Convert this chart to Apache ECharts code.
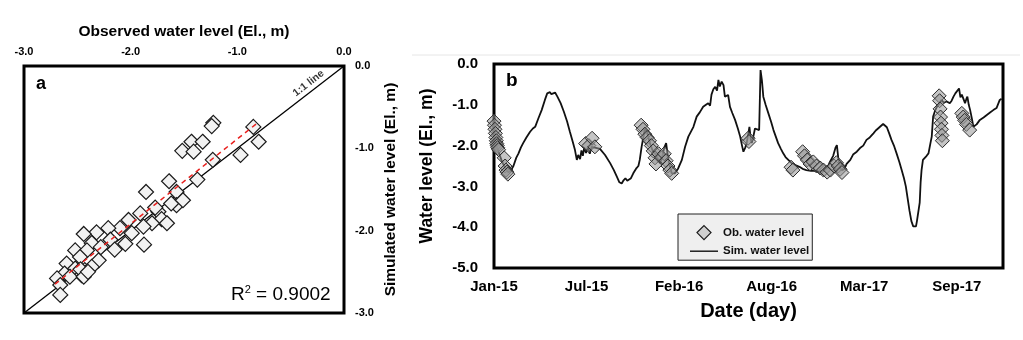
<!DOCTYPE html>
<html><head><meta charset="utf-8">
<script src="https://cdn.jsdelivr.net/npm/echarts@6/dist/echarts.min.js"></script>
<style>html,body{margin:0;padding:0;background:#fff}#c{width:1023px;height:340px}</style>
</head><body><div id="c"></div>
<script>
// ---------- Panel a: observed vs simulated (El., m) ----------
const obsA = [-1.225,-1.24,-1.516,-1.43,-1.325,-1.41,-0.85,-0.80,-0.97,-1.23,-1.375,-1.64,-1.856,-1.57,-1.57,-1.62,-1.91,-1.74,-1.71,-1.66,-1.80,-2.02,-2.10,-1.99,-1.88,-1.875,-2.21,-2.32,-2.44,-2.365,-2.19,-2.15,-2.05,-2.52,-2.41,-2.30,-2.60,-2.475,-2.52,-2.43,-2.365,-2.46,-2.43,-2.62,-2.69,-2.66,-2.66,-2.57,-1.77,-1.51,-2.28,-2.47,-2.44,-2.40];
const simA = [-0.69,-0.73,-1.03,-0.92,-0.92,-1.04,-0.74,-0.92,-1.08,-1.14,-1.38,-1.40,-1.53,-1.53,-1.69,-1.67,-1.79,-1.77,-1.86,-1.91,-1.91,-1.87,-1.97,-2.03,-1.95,-2.17,-1.97,-2.02,-2.04,-2.15,-2.11,-2.23,-2.16,-2.24,-2.24,-2.36,-2.40,-2.32,-2.46,-2.48,-2.44,-2.54,-2.52,-2.52,-2.58,-2.66,-2.78,-2.56,-1.72,-1.63,-2.20,-2.47,-2.56,-2.50];
const fitObs = [-2.71, -0.80];
const fitSim = [-2.65, -0.68];
const oneToOne = [-3, 0];
const oneToOneLabelAt = -0.30;
const ticksA = ['-3.0', '-2.0', '-1.0', '0.0'];
const r2Text = '0.9002';

// ---------- Panel b: time series (days since 1 Jan 2015) ----------
const simDays = [0,8,16,24,31,36,42,48,53,58,63,70,78,84,89,96,103,110,115,121,124,127,132,137,144,151,158,164,170,175,179,182,186,189,192,195,199,203,207,211,218,229,240,251,259,265,271,276,280,284,288,292,296,301,304,308,312,315,319,323,326,330,337,342,348,353,359,363,368,372,375,377,381,384,391,398,406,413,420,431,438,445,452,458,463,467,470,474,478,482,485,488,492,496,499,503,506,510,515,521,527,532,536,539,543,546,549,552,555,557,561,564,568,573,576,579,582,587,593,599,604,609,614,620,625,630,636,642,650,660,667,675,685,693,702,712,720,726,733,738,741,744,748,752,757,762,770,776,784,791,798,805,812,820,825,830,836,841,845,849,854,859,865,870,876,881,886,890,894,898,902,906,909,912,914,917,920,922,924,927,931,935,939,943,946,949,953,957,962,967,972,978,985,989,993,997,1000,1005,1008,1011,1014,1018,1021,1023,1026,1029,1033,1036,1040,1043,1050,1058,1065,1072,1079,1086,1090,1093,1097];
const simVals = [-1.9,-2.1,-2.35,-2.55,-2.65,-2.62,-2.5,-2.3,-2.19,-2.05,-1.94,-1.8,-1.66,-1.58,-1.54,-1.33,-1.13,-0.88,-0.72,-0.69,-0.74,-0.76,-0.70,-0.80,-0.96,-1.17,-1.41,-1.66,-1.90,-2.11,-2.35,-2.23,-2.33,-2.12,-2.25,-2.05,-2.18,-2.02,-2.2,-2.03,-2.05,-2.08,-2.23,-2.43,-2.60,-2.75,-2.9,-2.93,-2.85,-2.80,-2.86,-2.90,-2.80,-2.68,-2.72,-2.55,-2.5,-2.35,-2.03,-1.78,-1.58,-1.65,-1.94,-2.1,-2.19,-2.3,-2.43,-2.3,-2.05,-1.94,-2.2,-2.35,-2.55,-2.68,-2.68,-2.56,-2.35,-2.03,-1.78,-1.54,-1.29,-1.18,-1.05,-1.0,-0.96,-1.02,-0.75,-0.62,-0.56,-0.65,-0.39,-0.55,-0.43,-0.52,-0.80,-0.82,-0.76,-1.05,-1.2,-1.37,-1.58,-1.78,-2.0,-2.15,-2.05,-1.94,-1.75,-1.54,-1.85,-1.94,-1.75,-1.58,-1.62,-1.62,-0.15,-0.4,-0.80,-1.0,-1.21,-1.42,-1.62,-1.78,-1.94,-2.08,-2.19,-2.28,-2.35,-2.42,-2.47,-2.52,-2.57,-2.6,-2.62,-2.62,-2.64,-2.62,-2.55,-2.40,-2.25,-2.05,-1.99,-2.3,-2.55,-2.6,-2.58,-2.45,-2.35,-2.22,-2.15,-2.06,-2.0,-1.86,-1.8,-1.70,-1.63,-1.58,-1.52,-1.47,-1.50,-1.55,-1.7,-1.86,-2.02,-2.19,-2.4,-2.6,-2.8,-3.0,-3.3,-3.6,-3.85,-3.98,-4.02,-3.98,-3.85,-3.82,-3.4,-2.9,-2.6,-2.35,-2.3,-2.25,-2.19,-1.95,-1.78,-1.29,-1.15,-1.05,-0.98,-0.88,-0.95,-0.92,-0.96,-0.90,-0.80,-0.72,-0.68,-0.6,-0.82,-0.75,-0.72,-0.96,-0.85,-0.80,-1.0,-1.13,-1.35,-1.54,-1.52,-1.48,-1.37,-1.31,-1.25,-1.19,-1.13,-1.08,-1.05,-0.88,-0.85];
const obsDays = [0,1,2,3,4,5,6,7,8,10,22,24,26,28,30,198,205,212,218,318,322,326,331,336,340,344,348,350,356,362,368,372,376,380,384,549,551,642,646,667,671,677,683,690,697,705,712,720,727,735,740,744,748,752,962,963,964,965,966,967,968,969,1011,1014,1017,1021,1028];
const obsVals = [-1.4,-1.5,-1.6,-1.7,-1.8,-1.88,-1.95,-2.0,-2.05,-2.1,-2.3,-2.5,-2.6,-2.65,-2.7,-1.95,-2.0,-1.82,-2.03,-1.5,-1.6,-1.72,-1.8,-1.88,-2.0,-2.13,-2.3,-2.45,-2.2,-2.3,-2.2,-2.37,-2.5,-2.6,-2.68,-1.82,-1.9,-2.53,-2.6,-2.15,-2.25,-2.35,-2.45,-2.4,-2.5,-2.55,-2.6,-2.65,-2.6,-2.5,-2.42,-2.5,-2.58,-2.66,-0.78,-0.9,-1.1,-1.3,-1.45,-1.6,-1.75,-1.88,-1.21,-1.3,-1.38,-1.48,-1.62];
const dateTicks = ['Jan-15', 'Jul-15', 'Feb-16', 'Aug-16', 'Mar-17', 'Sep-17'];
const ticksB = ['0.0', '-1.0', '-2.0', '-3.0', '-4.0', '-5.0'];

const FF = '"Liberation Sans", Arial, sans-serif';
const zip = (a, b) => a.map((v, i) => [v, b[i]]);

const chart = echarts.init(document.getElementById('c'), null, {renderer: 'canvas'});
chart.setOption({
  animation: false,
  backgroundColor: '#fff',
  textStyle: {fontFamily: FF},
  grid: [
    {left: 24, top: 66, width: 320, height: 247, show: true, borderColor: '#000', borderWidth: 3, containLabel: false, outerBoundsMode: 'none'},
    {left: 494, top: 64, width: 509, height: 204, show: true, borderColor: '#000', borderWidth: 3, containLabel: false, outerBoundsMode: 'none'}
  ],
  title: [
    {text: 'a', left: 31, top: 70, textStyle: {fontFamily: FF, fontSize: 18, fontWeight: 'bold', color: '#000'}},
    {text: 'b', left: 501, top: 66, textStyle: {fontFamily: FF, fontSize: 19, fontWeight: 'bold', color: '#000'}},
    {text: '{r|R}{s|2}{r| = ' + r2Text + '}', left: 226, top: 279, textStyle: {fontWeight: 'normal', rich: {
      r: {fontFamily: FF, fontSize: 19, fontWeight: 'normal', color: '#000', verticalAlign: 'bottom', lineHeight: 20},
      s: {fontFamily: FF, fontSize: 11, fontWeight: 'normal', color: '#000', verticalAlign: 'top', padding: [0, 0, 8, 0], lineHeight: 20}
    }}}
  ],
  legend: {
    data: [
      {name: 'Ob. water level', icon: 'path://M7,0L14,7L7,14L0,7Z', itemStyle: {color: '#cfcfcf', borderColor: '#1a1a1a', borderWidth: 1.2}},
      {name: 'Sim. water level', icon: 'path://M0,0L28,0L28,1.4L0,1.4Z'}
    ],
    symbolKeepAspect: true,
    orient: 'vertical', left: 678, top: 214,
    padding: [11, 3, 3, 12], itemGap: 5, itemWidth: 28, itemHeight: 14,
    backgroundColor: '#efefef', borderColor: '#222', borderWidth: 1, borderRadius: 0,
    textStyle: {fontFamily: FF, fontSize: 11.5, fontWeight: 'bold', color: '#111'}
  },
  xAxis: [
    {gridIndex: 0, type: 'value', position: 'top', min: -3, max: 0, interval: 1,
     name: 'Observed water level (El., m)', nameLocation: 'middle', nameGap: 26,
     nameTextStyle: {fontFamily: FF, fontSize: 15.5, fontWeight: 'bold', color: '#000'},
     axisLine: {show: false}, axisTick: {show: false}, splitLine: {show: false},
     axisLabel: {margin: 9, fontFamily: FF, fontSize: 11, fontWeight: 'bold', color: '#000',
       formatter: v => ticksA[Math.round(v + 3)]}},
    {gridIndex: 1, type: 'value', min: 0, max: 1100, interval: 200,
     name: 'Date (day)', nameLocation: 'middle', nameGap: 33,
     nameTextStyle: {fontFamily: FF, fontSize: 20, fontWeight: 'bold', color: '#000'},
     axisLine: {show: false}, axisTick: {show: false}, splitLine: {show: false},
     axisLabel: {margin: 11, fontFamily: FF, fontSize: 15, fontWeight: 'bold', color: '#000',
       formatter: v => (v % 200 === 0 ? dateTicks[v / 200] : '')}}
  ],
  yAxis: [
    {gridIndex: 0, type: 'value', position: 'right', min: -3, max: 0, interval: 1,
     name: 'Simulated water level (El., m)', nameLocation: 'middle', nameGap: 39,
     nameTextStyle: {fontFamily: FF, fontSize: 15.5, fontWeight: 'bold', color: '#000'},
     axisLine: {show: false}, axisTick: {show: false}, splitLine: {show: false},
     axisLabel: {margin: 11, fontFamily: FF, fontSize: 11, fontWeight: 'bold', color: '#000',
       formatter: v => ticksA[Math.round(v + 3)]}},
    {gridIndex: 1, type: 'value', min: -5, max: 0, interval: 1,
     name: 'Water level (El., m)', nameLocation: 'middle', nameGap: 58,
     nameTextStyle: {fontFamily: FF, fontSize: 17.5, fontWeight: 'bold', color: '#000'},
     axisLine: {show: false}, axisTick: {show: false}, splitLine: {show: false},
     axisLabel: {margin: 16, fontFamily: FF, fontSize: 15, fontWeight: 'bold', color: '#000',
       formatter: v => ticksB[Math.round(-v)]}}
  ],
  graphic: [
    {type: 'line', shape: {x1: 412, y1: 55, x2: 1020, y2: 55}, style: {stroke: '#e6e6e6', lineWidth: 1}, silent: true}
  ],
  series: [
    {type: 'line', xAxisIndex: 0, yAxisIndex: 0, data: zip(oneToOne, oneToOne), symbol: 'none',
     lineStyle: {color: '#000', width: 1.3}, z: 3},
    {type: 'scatter', xAxisIndex: 0, yAxisIndex: 0, data: zip(obsA, simA), symbol: 'diamond', symbolSize: 15,
     itemStyle: {color: '#f2f2f2', borderColor: '#1a1a1a', borderWidth: 1.2, opacity: 1}, z: 4},
    {type: 'line', xAxisIndex: 0, yAxisIndex: 0, data: zip(fitObs, fitSim), symbol: 'none',
     lineStyle: {color: '#e8201e', width: 1.5, type: [5, 4]}, z: 5},
    {type: 'scatter', xAxisIndex: 0, yAxisIndex: 0, data: [[oneToOneLabelAt, oneToOneLabelAt]], symbolSize: 0.1,
     itemStyle: {color: 'rgba(0,0,0,0)'}, silent: true, z: 6,
     label: {show: true, formatter: '1:1 line', position: 'top', distance: 3, rotate: 37.7,
       fontFamily: FF, fontSize: 10.5, fontWeight: 'bold', color: '#000'}},
    {name: 'Sim. water level', type: 'line', xAxisIndex: 1, yAxisIndex: 1, data: zip(simDays, simVals), symbol: 'none',
     itemStyle: {color: '#111'}, lineStyle: {color: '#111', width: 1.8}, z: 3},
    {name: 'Ob. water level', type: 'scatter', xAxisIndex: 1, yAxisIndex: 1, data: zip(obsDays, obsVals), symbol: 'diamond', symbolSize: 14,
     itemStyle: {color: 'rgba(150,150,150,0.55)', borderColor: '#2a2a2a', borderWidth: 1, opacity: 1}, z: 4}
  ]
});
</script>
</body></html>
